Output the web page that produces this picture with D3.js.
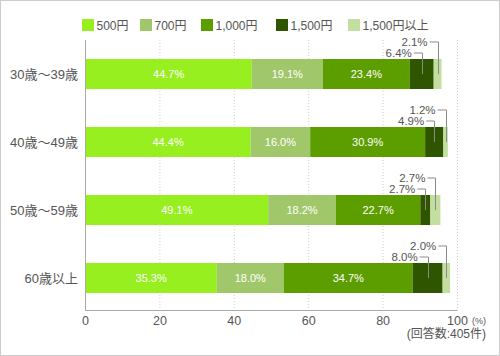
<!DOCTYPE html>
<html><head><meta charset="utf-8">
<script src="https://cdn.jsdelivr.net/npm/d3@7"></script>
<style>body{margin:0;background:#fff}svg{display:block;font-family:"Liberation Sans","Noto Sans CJK JP",sans-serif}</style>
</head><body><svg id="c" width="500" height="356"></svg>
<script>
const categories = ["30歳～39歳","40歳～49歳","50歳～59歳","60歳以上"];
const seriesNames = ["500円","700円","1,000円","1,500円","1,500円以上"];
const v500 = [44.7,44.4,49.1,35.3];
const v700 = [19.1,16.0,18.2,18.0];
const v1000 = [23.4,30.9,22.7,34.7];
const v1500 = [6.4,4.9,2.7,8.0];
const v1500p = [2.1,1.2,2.7,2.0];
const ticks = [0,20,40,60,80,100];
const colors = ["#97ef1f","#a0c76a","#5c9e00","#2f5500","#c3dfa0"];

const values = [v500,v700,v1000,v1500,v1500p];
const svg = d3.select("#c");
svg.append("rect").attr("x",0.5).attr("y",0.5).attr("width",499).attr("height",355)
  .attr("fill","#fff").attr("stroke","#cccccc");

const x = d3.scaleLinear().domain([0,100]).range([85.5,457.5]);
const y = d3.scaleBand().domain(categories).range([40,312]).paddingInner(38/68).paddingOuter(19/68);

// gridlines
svg.append("g").selectAll("line").data(ticks.filter(t=>t>0)).join("line")
  .attr("x1",d=>x(d)).attr("x2",d=>x(d)).attr("y1",40).attr("y2",310)
  .attr("stroke","#cfcfcf").attr("stroke-dasharray","1,2");

// stacked data
const rows = categories.map((c,i)=>{
  let acc=0;
  return values.map((arr,s)=>{const v=arr[i]; const o={cat:c,s,v,x0:acc,x1:acc+v}; acc+=v; return o;});
});

const g = svg.append("g");
rows.forEach(r=>{
  g.selectAll(null).data(r).join("rect")
    .attr("x",d=>x(d.x0)).attr("width",d=>x(d.x1)-x(d.x0))
    .attr("y",d=>y(d.cat)).attr("height",y.bandwidth())
    .attr("fill",d=>colors[d.s]);
  // inside labels
  g.selectAll(null).data(r.filter(d=>d.s<3)).join("text")
    .attr("x",d=>x((d.x0+d.x1)/2)).attr("y",d=>y(d.cat)+y.bandwidth()/2+4)
    .attr("text-anchor","middle").attr("fill","#fff").attr("font-size",11)
    .text(d=>d.v.toFixed(1)+"%");
  // leader labels
  r.filter(d=>d.s>=3).forEach(d=>{
    const cx = x((d.x0+d.x1)/2);
    const ly = y(d.cat) - (d.s===4 ? 17.5 : 6.5);
    const cy = y(d.cat)+y.bandwidth()/2;
    g.append("path").attr("d",`M${cx-8},${ly+0.5}H${Math.round(cx)+0.5}V${cy}`)
      .attr("fill","none").attr("stroke","#8a8a8a").attr("stroke-width",1);
    g.append("text").attr("x",cx-10).attr("y",ly+4).attr("text-anchor","end")
      .attr("fill","#555").attr("font-size",11.5).text(d.v.toFixed(1)+"%");
  });
});

// axes lines
svg.append("line").attr("x1",85.5).attr("x2",85.5).attr("y1",40).attr("y2",311)
  .attr("stroke","#aaaaaa");
svg.append("line").attr("x1",85).attr("x2",457.5).attr("y1",310.5).attr("y2",310.5)
  .attr("stroke","#aaaaaa");

// category labels
svg.append("g").selectAll("text").data(categories).join("text")
  .attr("x",78).attr("y",d=>y(d)+y.bandwidth()/2+4.5).attr("text-anchor","end")
  .attr("fill","#555").attr("font-size",13).text(d=>d);

// tick labels
svg.append("g").selectAll("text").data(ticks).join("text")
  .attr("x",d=>x(d)).attr("y",324.5).attr("text-anchor","middle")
  .attr("fill","#555").attr("font-size",12.5).text(d=>d);
svg.append("text").attr("x",472).attr("y",324).attr("font-size",9).attr("fill","#555").text("(%)");
svg.append("text").attr("x",486).attr("y",338).attr("text-anchor","end").attr("font-size",12)
  .attr("fill","#555").text("(回答数:405件)");

// legend
const lx = [82,140,201,276,348];
const lg = svg.append("g").selectAll("g").data(seriesNames).join("g")
  .attr("transform",(d,i)=>`translate(${lx[i]},19)`);
lg.append("rect").attr("width",12).attr("height",12).attr("fill",(d,i)=>colors[i]);
lg.append("text").attr("x",14.5).attr("y",11).attr("font-size",12).attr("fill","#555").text(d=>d);
</script></body></html>
